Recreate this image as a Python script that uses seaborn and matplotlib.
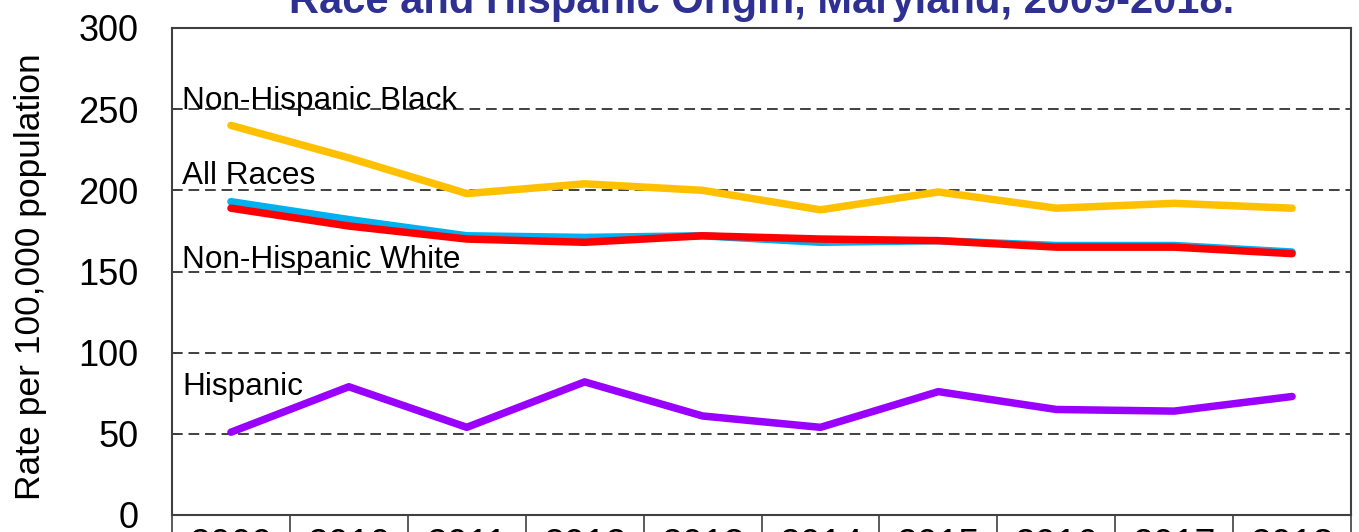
#!/usr/bin/env python3
"""Maryland rates by race and Hispanic origin, 2009-2018 (line chart)"""

import pandas as pd
import matplotlib
matplotlib.use("Agg")
import matplotlib.pyplot as plt
import seaborn as sns

years = ["2009", "2010", "2011", "2012", "2013", "2014", "2015", "2016", "2017", "2018"]
nh_black = [240, 220, 198, 204, 200, 188, 199, 189, 192, 189]
all_races = [193, 182, 172, 171, 172, 168, 169, 166, 166, 162]
nh_white = [189, 178, 170, 168, 172, 170, 169, 165, 165, 161]
hispanic = [51, 79, 54, 82, 61, 54, 76, 65, 64, 73]

series_names = ["Non-Hispanic Black", "All Races", "Non-Hispanic White", "Hispanic"]
series_colors = ["#FFC000", "#00B0F0", "#FF0000", "#9900FF"]
# label text and where its baseline sits (y value)
label_text = ["Non-Hispanic Black", "All Races", "Non-Hispanic White", "Hispanic"]
label_y = [250, 204, 152, 74]

title = "Race and Hispanic Origin, Maryland, 2009-2018."
y_label = "Rate per 100,000 population"

# long format for seaborn
frames = []
for name, vals in zip(series_names, [nh_black, all_races, nh_white, hispanic]):
    frames.append(pd.DataFrame({"year": years, "rate": vals, "group": name}))
df = pd.concat(frames, ignore_index=True)

sns.set_style("white")
plt.rcParams["font.family"] = ["Liberation Sans", "DejaVu Sans"]

fig = plt.figure(figsize=(13.59, 5.32), dpi=100)
ax = fig.add_axes([172 / 1359, 1 - 515 / 532, 1179 / 1359, 487 / 532])

sns.lineplot(data=df, x="year", y="rate", hue="group", hue_order=series_names,
             palette=series_colors, linewidth=5.4, sort=False, legend=False, ax=ax)
for ln in ax.get_lines():
    ln.set_solid_capstyle("round")
    ln.set_solid_joinstyle("round")

ax.set_xlim(-0.5, len(years) - 0.5)
ax.set_ylim(0, 300)
ax.set_yticks([0, 50, 100, 150, 200, 250, 300])

# dashed gridlines
for v in [50, 100, 150, 200, 250]:
    ax.axhline(v, color="#404040", linestyle=(0, (5.5, 3)), linewidth=1.4, zorder=0)

# series labels, left aligned inside the plot
for txt, yv in zip(label_text, label_y):
    ax.text(-0.415, yv, txt, fontsize=22.7, va="baseline", ha="left", color="black")

for s in ax.spines.values():
    s.set_color("#404040")
    s.set_linewidth(1.5)
    s.set_visible(True)

ax.set_xlabel("")
ax.set_ylabel(y_label, fontsize=25.5, color="black")
ax.yaxis.set_label_coords(-0.106, 0.49)

ax.tick_params(axis="y", left=True, direction="in", length=6, width=1.2,
               color="#404040", labelsize=26, labelcolor="black", pad=24)
# table-like x axis: year cells separated by long minor ticks
ax.set_xticks(range(len(years)))
ax.set_xticklabels(years)
ax.set_xticks([i - 0.5 for i in range(len(years) + 1)], minor=True)
ax.tick_params(axis="x", which="major", bottom=True, length=0, labelsize=27,
               labelcolor="black", pad=9.5)
ax.tick_params(axis="x", which="minor", bottom=True, direction="out", length=40,
               width=1.2, color="#404040")

fig.text((172 + 1179 / 2) / 1359, 1 - 13 / 532, title, ha="center", va="baseline",
         fontsize=30, fontweight="bold", color="#2E3192")

fig.savefig("out.png", dpi=100)
